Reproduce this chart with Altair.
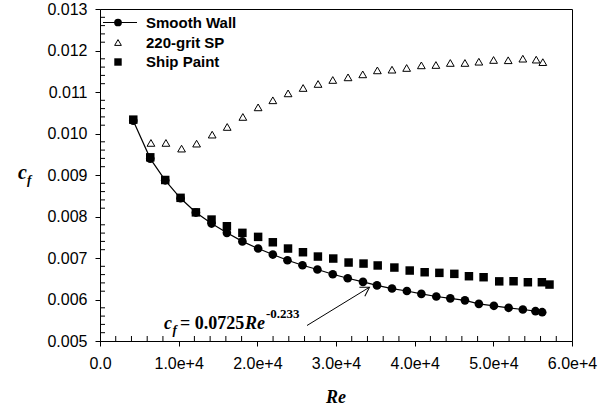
import altair as alt
import pandas as pd

# ---- data ----
re_smooth = [4230, 6390, 8290, 10240, 12190, 14180, 16130, 18100, 20100, 21970,
             23830, 25740, 27640, 29590, 31490, 33430, 35210, 37120, 39010, 40850,
             42750, 44530, 46390, 48160, 50070, 51940, 53750, 55360, 56210]
cf_smooth = [0.01031, 0.009395, 0.008872, 0.008439, 0.008095, 0.00783, 0.007606, 0.0074, 0.007228, 0.007083,
             0.006946, 0.006825, 0.006722, 0.006609, 0.006513, 0.006426, 0.00634, 0.006264, 0.006205, 0.006137,
             0.006072, 0.006028, 0.00598, 0.005896, 0.005848, 0.0058, 0.005759, 0.005718, 0.005694]

re_grit = [6476, 8381, 10370, 12280, 14260, 16170, 18160, 20100, 21970, 23910,
           25820, 27720, 29590, 31530, 33400, 35260, 37120, 38980, 40850, 42700,
           44530, 46390, 48160, 50030, 51890, 53750, 55450, 56290]
cf_grit = [0.009773, 0.009773, 0.009636, 0.009756, 0.009973, 0.010158, 0.010399, 0.01063, 0.0108, 0.010967,
           0.011097, 0.011194, 0.01129, 0.011353, 0.011425, 0.011521, 0.011538, 0.011579, 0.011642, 0.011651,
           0.0117, 0.0117, 0.01173, 0.011772, 0.011765, 0.011803, 0.01178, 0.01172]

re_ship = [4230, 6390, 8290, 10240, 12190, 14180, 16130, 18100, 20100, 21970,
           23900, 25800, 27700, 29650, 31600, 33500, 35300, 37420, 39370, 41270,
           43140, 45040, 46900, 48760, 50750, 52570, 54390, 56170, 57140]
cf_ship = [0.010334, 0.009426, 0.00888, 0.00845, 0.0081, 0.007926, 0.007765, 0.007606, 0.007509, 0.007379,
           0.007228, 0.007139, 0.007035, 0.006987, 0.006891, 0.006866, 0.00682, 0.00677, 0.006698, 0.006657,
           0.006642, 0.006618, 0.006561, 0.006537, 0.006437, 0.00644, 0.006416, 0.006416, 0.00636]

legend_names = ["Smooth Wall", "220-grit SP", "Ship Paint"]
x_ticks = [0, 10000, 20000, 30000, 40000, 50000, 60000]
y_ticks = [0.005, 0.006, 0.007, 0.008, 0.009, 0.010, 0.011, 0.012, 0.013]
x_minor = [v for v in range(0, 60001, 2000) if v % 10000 != 0]
y_minor = [round(0.005 + 0.0002 * i, 4) for i in range(41) if i % 5 != 0]

W, H = 472, 332
SANS = "Liberation Sans"
SERIF = "Liberation Serif"

xscale = alt.Scale(domain=[0, 60000], nice=False, zero=False)
yscale = alt.Scale(domain=[0.005, 0.013], nice=False, zero=False)

df_s = pd.DataFrame({"re": re_smooth, "cf": cf_smooth})
df_g = pd.DataFrame({"re": re_grit, "cf": cf_grit})
df_p = pd.DataFrame({"re": re_ship, "cf": cf_ship})

x_axis = alt.Axis(values=x_ticks, title="", grid=False, tickSize=5,
                  labelExpr="datum.value == 0 ? '0.0' : format(datum.value / 10000, '.1f') + 'e+4'",
                  labelFont=SANS, labelFontSize=16, labelColor="black", labelPadding=9,
                  domainColor="black", tickColor="black", labelFlush=False, labelOverlap=False)
y_axis = alt.Axis(values=y_ticks, format=".3f", title="", grid=False, tickSize=5,
                  labelFont=SANS, labelFontSize=16, labelColor="black", labelPadding=8,
                  domainColor="black", tickColor="black", labelFlush=False, labelOverlap=False)


def X(field="re"):
    return alt.X(f"{field}:Q", scale=xscale, axis=x_axis)


def Y(field="cf"):
    return alt.Y(f"{field}:Q", scale=yscale, axis=y_axis)


line = alt.Chart(df_s).mark_line(color="black", strokeWidth=1.2).encode(x=X(), y=Y())
circles = alt.Chart(df_s).mark_point(shape="circle", filled=True, color="black", size=75, opacity=1).encode(x=X(), y=Y())
tris = alt.Chart(df_g).mark_point(shape="triangle-up", filled=False, stroke="black", strokeWidth=1,
                                  size=60, opacity=1).encode(x=X(), y=Y())
squares = alt.Chart(df_p).mark_point(shape="square", filled=True, color="black", size=72, opacity=1).encode(x=X(), y=Y())

# minor ticks (inside)
ym = alt.Chart(pd.DataFrame({"cf": y_minor})).mark_rule(color="black", strokeWidth=1).encode(
    y=Y(), x=alt.value(0), x2=alt.value(5))
xm = alt.Chart(pd.DataFrame({"re": x_minor})).mark_rule(color="black", strokeWidth=1).encode(
    x=X(), y=alt.value(H - 5), y2=alt.value(H))

# legend
one = pd.DataFrame({"k": [0]})
leg_y = [13.5, 33.5, 53]
leg_layers = [
    alt.Chart(one).mark_rule(color="black", strokeWidth=1.2).encode(x=alt.value(3), x2=alt.value(37), y=alt.value(leg_y[0])),
    alt.Chart(one).mark_point(shape="circle", filled=True, color="black", size=60, opacity=1).encode(x=alt.value(18), y=alt.value(leg_y[0])),
    alt.Chart(one).mark_point(shape="triangle-up", filled=False, stroke="black", strokeWidth=1, size=45, opacity=1).encode(x=alt.value(18), y=alt.value(leg_y[1])),
    alt.Chart(one).mark_point(shape="square", filled=True, color="black", size=55, opacity=1).encode(x=alt.value(18), y=alt.value(leg_y[2])),
]
for name, yy in zip(legend_names, leg_y):
    leg_layers.append(
        alt.Chart(pd.DataFrame({"name": [name]})).mark_text(
            align="left", baseline="middle", font=SANS, fontSize=15, fontWeight="bold", color="black"
        ).encode(x=alt.value(46), y=alt.value(yy), text="name:N")
    )


def txt(s, x, y, size, style="normal", weight="bold", font=SERIF, align="left", baseline="alphabetic"):
    return alt.Chart(pd.DataFrame({"t": [s]})).mark_text(
        align=align, baseline=baseline, font=font, fontSize=size, fontStyle=style,
        fontWeight=weight, color="black"
    ).encode(x=alt.value(x), y=alt.value(y), text="t:N")


ann = [
    txt("c", 64, 320, 18, "italic"),
    txt("f", 72.5, 324.5, 13, "italic"),
    txt("= 0.0725", 80, 320, 18),
    txt("Re", 145, 320, 18, "italic"),
    txt("-0.233", 166, 309, 13),
    alt.Chart(one).mark_rule(color="black", strokeWidth=1).encode(
        x=alt.value(207), x2=alt.value(269), y=alt.value(316.5), y2=alt.value(278.5)),
    alt.Chart(one).mark_point(shape="M -1 -0.6 L 0 0 L -1 0.6", filled=False, stroke="black",
                              strokeWidth=1, size=300, angle=328.6, opacity=1).encode(
        x=alt.value(269.5), y=alt.value(278.2)),
    # axis titles
    txt("c", -82, 170, 20, "italic"),
    txt("f", -73, 175, 13, "italic"),
    txt("Re", 236, 394, 18, "italic", align="center"),
]

chart = alt.layer(line, ym, xm, circles, tris, squares, *leg_layers, *ann).properties(
    width=W, height=H,
    autosize=alt.AutoSizeParams(type="none"),
    padding={"left": 100, "top": 9, "right": 28, "bottom": 72},
    background="white",
).configure_view(stroke="black", strokeWidth=1)

chart.save("out.html", embed_options={"renderer": "svg", "actions": False})
